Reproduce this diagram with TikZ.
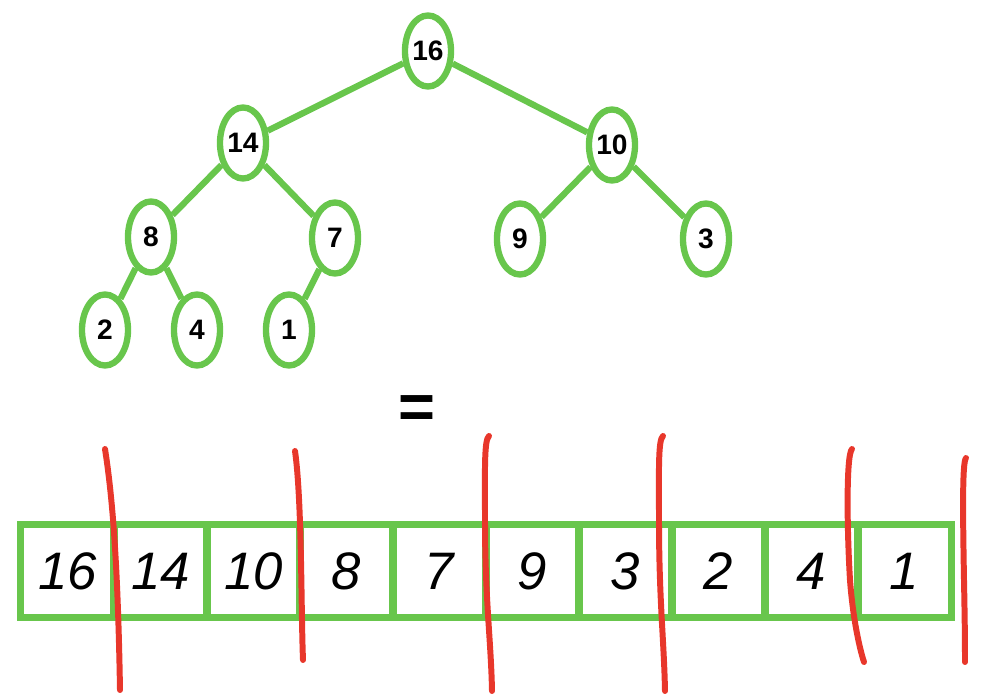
\documentclass[tikz,border=0pt]{standalone}
\usepackage{fontspec}
\setmainfont{Liberation Sans}
\usetikzlibrary{shapes.geometric}
\definecolor{heapgreen}{HTML}{68C64C}
\definecolor{cutred}{HTML}{E8372B}

\begin{document}
\begin{tikzpicture}[
      x=0.01cm, y=-0.01cm,
      heapnode/.style={
        ellipse, draw=heapgreen, line width=1.8pt, fill=white,
        minimum width=0.46cm, minimum height=0.71cm, inner sep=0pt,
        font=\fontsize{8}{9}\selectfont\bfseries
      },
      edge/.style={draw=heapgreen, line width=1.8pt},
      cell/.style={
        rectangle, draw=heapgreen, line width=2pt,
        minimum size=0.93cm, inner sep=0pt,
        font=\fontsize{15}{17}\selectfont\itshape
      },
      cutmark/.style={draw=cutred, line width=1.7pt, line cap=round}
    ]
      \useasboundingbox (0,0) rectangle (996,694);

      % Heap tree
      \node[heapnode] (n16) at (428,51) {16};
      \node[heapnode] (n14) at (243,143) {14};
      \node[heapnode] (n10) at (612,145) {10};
      \node[heapnode] (n8) at (151,237) {8};
      \node[heapnode] (n7) at (335,238) {7};
      \node[heapnode] (n9) at (520,239) {9};
      \node[heapnode] (n3) at (706,239) {3};
      \node[heapnode] (n2) at (105,330) {2};
      \node[heapnode] (n4) at (197,330) {4};
      \node[heapnode] (n1) at (289,330) {1};

      % Edges
      \draw[edge] (n16) -- (n14);
      \draw[edge] (n16) -- (n10);
      \draw[edge] (n14) -- (n8);
      \draw[edge] (n14) -- (n7);
      \draw[edge] (n10) -- (n9);
      \draw[edge] (n10) -- (n3);
      \draw[edge] (n8) -- (n2);
      \draw[edge] (n8) -- (n4);
      \draw[edge] (n7) -- (n1);

      % Equals sign
      \node[font=\fontsize{18}{20}\selectfont\bfseries] (eq) at (417,412) {=};

      % Array
      \foreach \v [count=\i] in {16,14,10,8,7,9,3,2,4,1}
        \node[cell] (c\i) at ({93*\i-25.5},571) {\v};

      % Level cuts
      \draw[cutmark] (105,449) .. controls (113,500) and (118,570) .. (120,690);
      \draw[cutmark] (295,451) .. controls (302,500) and (301,610) .. (303,660);
      \draw[cutmark] (489,436) .. controls (484,440) and (485,470) .. (485,520)
                     .. controls (485,600) and (491,640) .. (492,691);
      \draw[cutmark] (663,436) .. controls (658,440) and (659,470) .. (659,520)
                     .. controls (659,600) and (664,640) .. (665,691);
      \draw[cutmark] (852,449) .. controls (846,455) and (847,530) .. (850,580)
                     .. controls (853,620) and (860,650) .. (864,662);
      \draw[cutmark] (966,458) .. controls (962,462) and (963,520) .. (964,580)
                     .. controls (965,630) and (965,650) .. (965,662);
    \end{tikzpicture}
\end{document}
